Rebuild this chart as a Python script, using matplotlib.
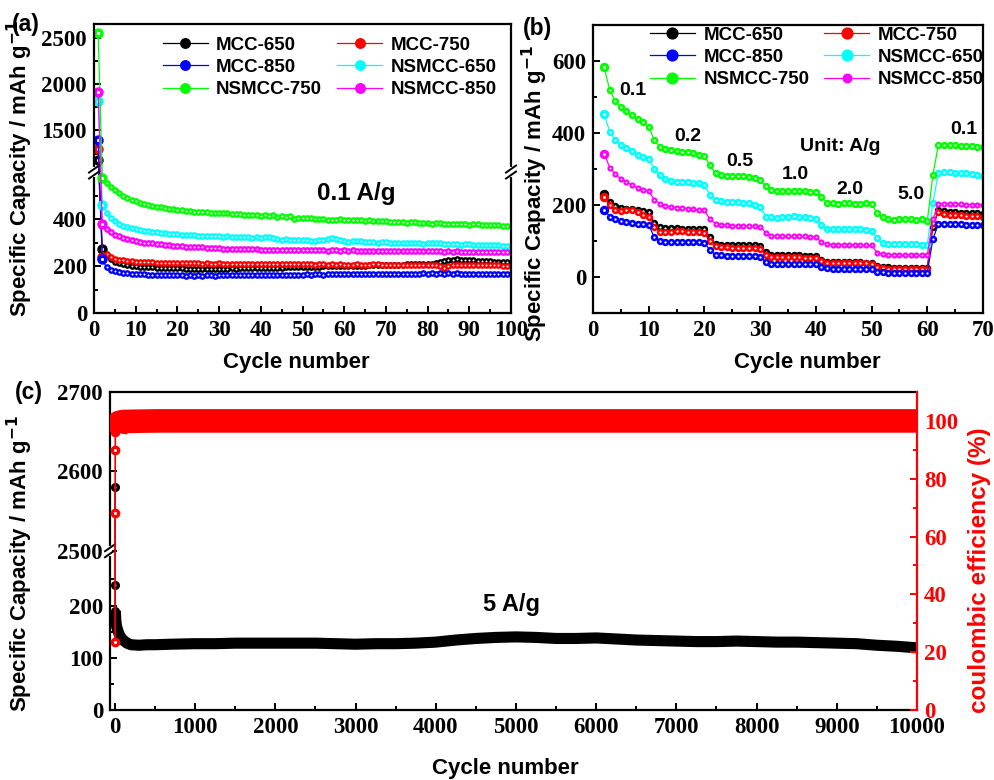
import numpy as np
import matplotlib
matplotlib.use("Agg")
import matplotlib.pyplot as plt
from matplotlib.ticker import FixedLocator

SANS = "Liberation Sans"
SERIF = "Liberation Serif"

# ---------------- data: panel (a), 0.1 A/g, cycles 1..100 ----------------
a_cycles = list(range(1, 101))
a_mcc650 = [1180, 272, 245, 228, 218, 212, 207, 204, 201, 199,
            197, 196, 195, 194, 193, 192, 191, 191, 190, 190,
            190, 189, 189, 189, 188, 189, 188, 188, 189, 188,
            189, 189, 190, 189, 190, 190, 190, 191, 190, 191,
            191, 192, 192, 193, 193, 194, 194, 195, 195, 196,
            196, 197, 197, 197, 198, 198, 199, 199, 199, 200,
            200, 201, 201, 202, 202, 203, 203, 204, 204, 205,
            205, 205, 206, 206, 207, 207, 208, 208, 209, 209,
            210, 212, 218, 222, 225, 226, 228, 227, 226, 225,
            224, 223, 222, 221, 220, 219, 218, 217, 216, 215]
a_mcc750 = [1300, 240, 252, 240, 232, 227, 224, 222, 220, 219,
            218, 217, 216, 216, 215, 215, 214, 214, 213, 213,
            212, 212, 211, 212, 211, 210, 211, 210, 210, 211,
            209, 210, 209, 210, 209, 208, 209, 210, 208, 209,
            208, 209, 208, 207, 208, 209, 208, 207, 208, 207,
            208, 207, 206, 208, 207, 206, 207, 206, 207, 206,
            205, 206, 207, 206, 205, 206, 207, 208, 206, 205,
            206, 205, 206, 205, 206, 205, 204, 205, 206, 204,
            205, 203, 198, 192, 200, 204, 205, 206, 205, 204,
            205, 204, 205, 204, 203, 204, 203, 202, 201, 200]
a_mcc850 = [1400, 228, 194, 184, 178, 174, 171, 169, 167, 166,
            165, 164, 163, 162, 162, 161, 161, 160, 160, 160,
            160, 159, 160, 159, 160, 159, 160, 160, 159, 160,
            160, 161, 160, 161, 160, 161, 161, 160, 161, 161,
            162, 161, 162, 162, 163, 162, 163, 162, 163, 163,
            164, 163, 164, 164, 163, 164, 165, 164, 165, 165,
            165, 166, 165, 166, 166, 167, 166, 167, 167, 166,
            167, 167, 168, 167, 168, 167, 168, 168, 169, 168,
            169, 168, 169, 168, 169, 168, 169, 168, 167, 168,
            167, 168, 167, 168, 167, 166, 167, 166, 166, 166]
a_nsmcc650 = [1820, 460, 424, 404, 390, 380, 372, 366, 361, 357,
              353, 350, 347, 345, 343, 341, 339, 337, 336, 335,
              333, 332, 331, 330, 329, 329, 328, 327, 327, 326,
              325, 327, 324, 325, 322, 323, 322, 320, 323, 321,
              322, 324, 320, 315, 312, 313, 311, 310, 310, 309,
              309, 308, 307, 309, 312, 316, 318, 313, 310, 306,
              304, 305, 307, 305, 303, 304, 302, 300, 301, 302,
              300, 298, 299, 298, 297, 298, 299, 297, 295, 296,
              297, 299, 296, 293, 294, 292, 293, 291, 292, 293,
              291, 290, 291, 289, 290, 289, 288, 287, 287, 286]
a_nsmcc750 = [2550, 575, 555, 538, 522, 511, 500, 490, 482, 475,
              470, 465, 461, 457, 453, 450, 447, 444, 441, 439,
              437, 435, 433, 432, 431, 429, 428, 427, 426, 425,
              424, 426, 421, 422, 420, 419, 418, 419, 416, 415,
              417, 413, 416, 410, 412, 408, 413, 402, 405, 404,
              404, 403, 402, 402, 400, 396, 398, 397, 400, 398,
              397, 395, 394, 396, 393, 394, 392, 390, 391, 390,
              389, 388, 387, 388, 385, 386, 388, 385, 382, 383,
              380, 382, 383, 380, 381, 378, 379, 377, 378, 375,
              378, 377, 376, 375, 376, 375, 373, 372, 370, 370]
a_nsmcc850 = [1920, 378, 358, 344, 334, 326, 320, 315, 310, 306,
              303, 300, 298, 296, 294, 292, 290, 288, 287, 285,
              284, 283, 282, 281, 280, 279, 278, 277, 276, 275,
              274, 274, 273, 272, 272, 273, 272, 271, 271, 270,
              270, 269, 270, 269, 268, 269, 268, 268, 269, 268,
              267, 268, 267, 268, 267, 266, 268, 267, 266, 267,
              266, 267, 266, 265, 266, 265, 266, 265, 264, 265,
              264, 265, 264, 263, 264, 263, 264, 263, 262, 263,
              262, 263, 262, 261, 262, 261, 262, 261, 260, 261,
              260, 261, 260, 259, 260, 259, 259, 258, 258, 258]

# ---------------- data: panel (b), rate test, cycles 2..70 ----------------
b_cycles = list(range(2, 71))
b_mcc650 = [231, 208, 198, 192, 190, 188, 186, 184, 180,
            150, 138, 136, 135, 135, 134, 134, 133, 133, 132,
            110, 92, 90, 90, 89, 89, 88, 88, 88, 87,
            70, 62, 61, 60, 60, 60, 60, 59, 59, 58,
            48, 43, 42, 42, 42, 41, 41, 41, 40, 40,
            30, 27, 27, 26, 26, 26, 26, 25, 25, 25,
            140, 185, 182, 180, 180, 179, 178, 178, 177, 176]
b_mcc750 = [222, 200, 187, 183, 185, 186, 180, 172, 168,
            140, 125, 125, 126, 127, 127, 126, 126, 125, 122,
            100, 85, 82, 82, 81, 81, 81, 80, 80, 78,
            62, 56, 55, 55, 55, 55, 55, 54, 54, 54,
            45, 40, 39, 39, 39, 38, 38, 38, 38, 37,
            28, 24, 23, 23, 22, 22, 22, 22, 22, 21,
            150, 180, 175, 173, 172, 171, 170, 170, 169, 168]
b_mcc850 = [187, 168, 160, 155, 152, 150, 148, 147, 145,
            110, 100, 98, 98, 97, 97, 97, 96, 96, 95,
            75, 62, 60, 59, 58, 58, 58, 57, 57, 56,
            42, 37, 36, 36, 36, 35, 35, 35, 35, 35,
            28, 24, 23, 23, 23, 23, 22, 22, 22, 22,
            15, 13, 12, 12, 12, 12, 12, 12, 12, 12,
            105, 148, 147, 147, 146, 146, 145, 145, 144, 144]
b_nsmcc650 = [452, 403, 380, 368, 358, 350, 340, 333, 328,
              301, 282, 273, 268, 265, 264, 263, 262, 260, 255,
              228, 213, 210, 208, 208, 207, 206, 205, 200, 195,
              168, 166, 165, 166, 168, 170, 168, 166, 163, 160,
              144, 134, 133, 132, 133, 134, 133, 132, 131, 129,
              107, 95, 93, 92, 92, 92, 91, 91, 90, 88,
              205, 290, 292, 291, 290, 289, 288, 286, 284, 280]
b_nsmcc750 = [583, 519, 489, 472, 460, 450, 440, 430, 418,
              380, 362, 356, 353, 350, 348, 346, 344, 340, 335,
              310, 288, 283, 281, 281, 280, 280, 279, 276, 270,
              252, 241, 240, 239, 240, 240, 239, 238, 237, 236,
              222, 206, 205, 204, 205, 205, 204, 204, 205, 203,
              177, 166, 162, 158, 160, 161, 160, 159, 162, 155,
              283, 368, 367, 366, 366, 365, 364, 363, 362, 360]
b_nsmcc850 = [343, 304, 285, 273, 264, 255, 248, 243, 238,
              215, 204, 198, 195, 193, 192, 190, 188, 186, 185,
              160, 148, 145, 144, 143, 143, 142, 142, 141, 140,
              123, 115, 114, 114, 113, 113, 113, 113, 112, 112,
              97, 91, 90, 90, 90, 89, 89, 89, 88, 88,
              68, 63, 62, 62, 61, 61, 61, 60, 60, 60,
              160, 203, 203, 203, 202, 202, 201, 201, 200, 200]
rate_labels = ["0.1", "0.2", "0.5", "1.0", "2.0", "5.0", "0.1"]

# ---------------- data: panel (c), 5 A/g long cycling ----------------
c_cycles = [1, 2, 5, 10, 20, 40, 60, 100, 150, 200, 300, 400, 500, 700,
            1000, 1250, 1500, 1750, 2000, 2250, 2500, 2750, 3000, 3250,
            3500, 3750, 4000, 4250, 4500, 4750, 5000, 5250, 5500, 5750,
            6000, 6250, 6500, 6750, 7000, 7250, 7500, 7750, 8000, 8250,
            8500, 8750, 9000, 9250, 9500, 9750, 10000]
c_capacity = [2580, 240, 190, 172, 160, 150, 142, 134, 128, 125, 124, 125,
              125, 126, 127, 127, 128, 128, 128, 128, 128, 127, 126, 127,
              127, 128, 130, 134, 137, 139, 140, 139, 137, 137, 138, 136,
              134, 133, 132, 131, 131, 132, 131, 130, 130, 129, 128, 127,
              124, 122, 119]
ce_cycles = [1, 2, 3, 5, 20, 50, 100, 500, 1000, 2000, 3000, 4000, 5000,
             6000, 7000, 8000, 9000, 10000]
ce_values = [23.5, 68, 90, 96, 98.5, 99.5, 99.8, 100, 100, 100, 100, 100,
             100, 100, 100, 100, 100, 100]

names = ["MCC-650", "MCC-750", "MCC-850", "NSMCC-650", "NSMCC-750", "NSMCC-850"]
colors = ["#000000", "#ff0000", "#0000ff", "#00ffff", "#00ff00", "#ff00ff"]

W, H = 995, 780
fig = plt.figure(figsize=(W / 100, H / 100), dpi=100)


def px_axes(l, t, r, b):
    return fig.add_axes([l / W, 1 - b / H, (r - l) / W, (b - t) / H])


def broken_scale(lo, hi, ratio):
    def fwd(y):
        y = np.asarray(y, dtype=float)
        return np.where(y <= lo, y, np.where(y >= hi, lo + (y - hi) * ratio, lo))

    def inv(u):
        u = np.asarray(u, dtype=float)
        return np.where(u <= lo, u, hi + (u - lo) / ratio)
    return fwd, inv


def style_axes(ax):
    for s in ax.spines.values():
        s.set_linewidth(1.6)
    ax.tick_params(which="both", direction="in", width=1.4, top=False,
                   right=False, labelsize=16.5, pad=5)
    ax.tick_params(which="major", length=5)
    ax.tick_params(which="minor", length=3)
    for lab in ax.get_xticklabels() + ax.get_yticklabels():
        lab.set_fontfamily(SERIF)
        lab.set_fontweight("bold")


def break_mark(ax, xfrac, yfrac):
    pos = ax.get_position()
    wpx, hpx = pos.width * W, pos.height * H
    dx, dy, sep = 5 / wpx, 3.5 / hpx, 3 / hpx
    ax.plot([xfrac, xfrac], [yfrac - sep, yfrac + sep], color="white", lw=3,
            transform=ax.transAxes, clip_on=False, zorder=20)
    for off in (-sep, sep):
        ax.plot([xfrac - dx, xfrac + dx], [yfrac + off - dy, yfrac + off + dy],
                color="black", lw=1.4, transform=ax.transAxes, clip_on=False,
                zorder=21)


def series(ax, x, y, c, ms, lw=0.9, big=0, bigms=None):
    h, = ax.plot(x, y, "-", color=c, lw=lw, marker="o", ms=ms, mec=c, mfc=c)
    ax.plot(x, y, ls="none", marker="o", ms=ms * 0.38, mfc="white", mec="none")
    if big:
        ax.plot(x[:big], y[:big], ls="none", marker="o", ms=bigms, mfc=c, mec=c)
        ax.plot(x[:big], y[:big], ls="none", marker="o", ms=bigms * 0.35,
                mfc="white", mec="none")
    return h


def legend(ax, handles, x0, y0):
    order = [0, 2, 4, 1, 3, 5]
    hs = [handles[i] for i in order]
    ls = [names[i] for i in order]
    ax.legend(hs, ls, ncol=2, loc="upper left", bbox_to_anchor=(x0, y0),
              frameon=False, borderpad=0, borderaxespad=0, handlelength=2.4,
              handletextpad=0.45, columnspacing=0.8, labelspacing=0.27,
              markerscale=1.8,
              prop={"family": SANS, "weight": "bold", "size": 13.5})


label_font = {"family": SANS, "weight": "bold", "size": 16}
YLABEL = "Specific Capacity / mAh g$^{\\mathbf{-1}}$"

# ---------------- panel (a) ----------------
ax_a = px_axes(94, 24, 511, 313)
fa, ia = broken_scale(600, 1050, 0.394)
ax_a.set_yscale("function", functions=(fa, ia))
a_data = [a_mcc650, a_mcc750, a_mcc850, a_nsmcc650, a_nsmcc750, a_nsmcc850]
ha = []
for yv, c in zip(a_data, colors):
    ha.append(series(ax_a, a_cycles, yv, c, ms=3.8, lw=0.9, big=2, bigms=6.5))
ax_a.set_xlim(0, 100)
ax_a.set_ylim(0, 2650)
ax_a.xaxis.set_major_locator(FixedLocator(list(range(0, 101, 10))))
ax_a.xaxis.set_minor_locator(FixedLocator(list(range(5, 100, 10))))
ax_a.yaxis.set_major_locator(FixedLocator([0, 200, 400, 1500, 2000, 2500]))
ax_a.yaxis.set_minor_locator(FixedLocator([100, 300, 500, 1250, 1750, 2250]))
style_axes(ax_a)
ax_a.set_xlabel("Cycle number", fontdict=label_font)
ax_a.set_ylabel(YLABEL, fontdict=label_font)
ax_a.xaxis.set_label_coords(0.484, -0.135)
ax_a.yaxis.set_label_coords(-0.141, 0.5)
legend(ax_a, ha, 0.165, 0.956)
ax_a.text(63, 510, "0.1 A/g", ha="center", va="center", family=SANS,
          weight="bold", size=17.5)
yb_a = float(fa(600)) / float(fa(2650))
break_mark(ax_a, 0, yb_a)
break_mark(ax_a, 1, yb_a)

# ---------------- panel (b) ----------------
ax_b = px_axes(593, 25, 983, 313)
b_data = [b_mcc650, b_mcc750, b_mcc850, b_nsmcc650, b_nsmcc750, b_nsmcc850]
hb = []
for yv, c, nm in zip(b_data, colors, names):
    ms = 3.4 if nm == "NSMCC-850" else 4.3
    hb.append(series(ax_b, b_cycles, yv, c, ms=ms, lw=0.9, big=1, bigms=5.8))
ax_b.set_xlim(0, 70)
ax_b.set_ylim(-100, 700)
ax_b.xaxis.set_major_locator(FixedLocator(list(range(0, 71, 10))))
ax_b.xaxis.set_minor_locator(FixedLocator(list(range(5, 70, 10))))
ax_b.yaxis.set_major_locator(FixedLocator([0, 200, 400, 600]))
ax_b.yaxis.set_minor_locator(FixedLocator([100, 300, 500]))
style_axes(ax_b)
ax_b.set_xlabel("Cycle number", fontdict=label_font)
ax_b.set_ylabel(YLABEL, fontdict=label_font)
ax_b.xaxis.set_label_coords(0.549, -0.135)
ax_b.yaxis.set_label_coords(-0.110, 0.415)
legend(ax_b, hb, 0.146, 0.994)
rate_pos = [(7.2, 519), (17, 391), (26.4, 322), (36.3, 284), (46.1, 243),
            (57, 230), (66.6, 410)]
for (xx, yy), t in zip(rate_pos, rate_labels):
    ax_b.text(xx, yy, t, ha="center", va="center", family=SANS,
              weight="bold", size=14)
ax_b.text(44.3, 363, "Unit: A/g", ha="center", va="center", family=SANS,
          weight="bold", size=14)

# ---------------- panel (c) ----------------
ax_c = px_axes(110, 392, 917, 710)
fc, ic = broken_scale(305, 2500, 1.52)
ax_c.set_yscale("function", functions=(fc, ic))
ax_c.plot(c_cycles[:3], c_capacity[:3], "-", color="black", lw=1.0,
          marker="o", ms=5.5, zorder=3)
ax_c.plot(c_cycles[:2], c_capacity[:2], ls="none", marker="o", ms=2,
          mfc="#777777", mec="none", zorder=4)
ax_c.plot(c_cycles[2:], c_capacity[2:], "-", color="black", lw=8,
          solid_capstyle="butt", solid_joinstyle="round", zorder=3)
ax_c.set_xlim(-62, 10000)
ax_c.set_ylim(0, 2700)
ax_c.xaxis.set_major_locator(FixedLocator(list(range(0, 10001, 1000))))
ax_c.xaxis.set_minor_locator(FixedLocator(list(range(500, 10000, 1000))))
ax_c.yaxis.set_major_locator(FixedLocator([0, 100, 200, 2500, 2600, 2700]))
ax_c.yaxis.set_minor_locator(FixedLocator([50, 150, 250]))
style_axes(ax_c)
ax_c.set_xlabel("Cycle number", fontdict=label_font)
ax_c.set_ylabel(YLABEL, fontdict=label_font)
ax_c.xaxis.set_label_coords(0.49, -0.152)
ax_c.yaxis.set_label_coords(-0.093, 0.459)
ax_c.text(4938, 202, "5 A/g", ha="center", va="center", family=SANS,
          weight="bold", size=17)
ax_c.spines["right"].set_visible(False)

ax_c2 = ax_c.twinx()
ax_c2.set_position(ax_c.get_position())
ax_c2.plot(ce_cycles[:4], ce_values[:4], "-", color="#ff0000", lw=1.2,
           marker="o", ms=6, mfc="#ff0000", mec="#ff0000", zorder=3)
ax_c2.plot(ce_cycles[:3], ce_values[:3], ls="none", marker="o", ms=2.2,
           mfc="white", mec="none", zorder=4)
ax_c2.plot(ce_cycles[3:], ce_values[3:], "-", color="#ff0000", lw=17,
           solid_capstyle="butt", zorder=2)
ax_c2.set_ylim(0, 110)
ax_c2.yaxis.set_major_locator(FixedLocator([0, 20, 40, 60, 80, 100]))
ax_c2.yaxis.set_minor_locator(FixedLocator([10, 30, 50, 70, 90]))
for s in ax_c2.spines.values():
    s.set_linewidth(1.6)
ax_c2.spines["right"].set_color("#ff0000")
ax_c2.spines["left"].set_visible(False)
ax_c2.spines["top"].set_visible(False)
ax_c2.spines["bottom"].set_visible(False)
ax_c2.tick_params(which="both", direction="in", width=1.4, colors="#ff0000",
                  labelsize=16.5, pad=5, right=True, left=False)
ax_c2.tick_params(which="major", length=5)
ax_c2.tick_params(which="minor", length=3)
for lab in ax_c2.get_yticklabels():
    lab.set_fontfamily(SERIF)
    lab.set_fontweight("bold")
ax_c2.set_ylabel("coulombic efficiency (%)", color="#ff0000",
                 fontdict={"family": SANS, "weight": "bold", "size": 17.5})
ax_c2.yaxis.set_label_coords(1.063, 0.44)
yb_c = float(fc(305)) / float(fc(2700))
break_mark(ax_c, 0, yb_c)

# panel letters
for t, (x, y) in zip(["(a)", "(b)", "(c)"], [(26, 25), (538, 28), (29, 392)]):
    fig.text(x / W, 1 - y / H, t, ha="center", va="center", family=SANS,
             weight="bold", size=16.5)

fig.savefig("out.png", dpi=100)
